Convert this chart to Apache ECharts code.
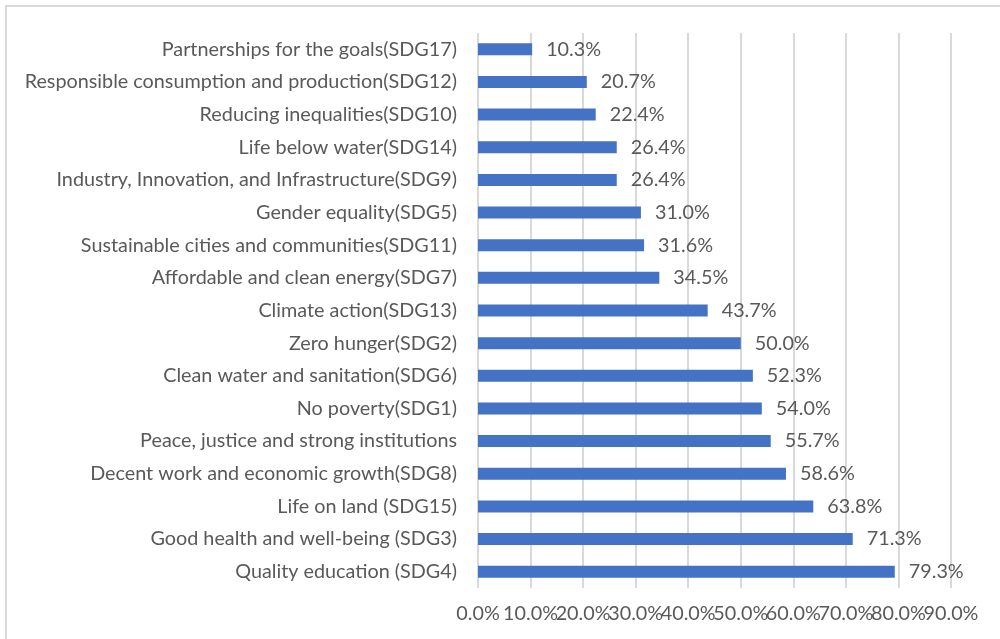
<!DOCTYPE html>
<html>
<head>
<meta charset="utf-8">
<script src="https://cdn.jsdelivr.net/npm/echarts@6/dist/echarts.min.js"></script>
<style>
  html, body { margin: 0; padding: 0; background: #fff; }
  #chart { width: 1000px; height: 639px; }
</style>
</head>
<body>
<div id="chart"></div>
<script>
// Goals listed bottom to top (first entry sits at the bottom of the axis)
const goals = [
  'Quality education (SDG4)',
  'Good health and well-being (SDG3)',
  'Life on land (SDG15)',
  'Decent work and economic growth(SDG8)',
  'Peace, justice and strong institutions',
  'No poverty(SDG1)',
  'Clean water and sanitation(SDG6)',
  'Zero hunger(SDG2)',
  'Climate action(SDG13)',
  'Affordable and clean energy(SDG7)',
  'Sustainable cities and communities(SDG11)',
  'Gender equality(SDG5)',
  'Industry, Innovation, and Infrastructure(SDG9)',
  'Life below water(SDG14)',
  'Reducing inequalities(SDG10)',
  'Responsible consumption and production(SDG12)',
  'Partnerships for the goals(SDG17)'
];
// Share of respondents, percent
const shares = [79.3, 71.3, 63.8, 58.6, 55.7, 54.0, 52.3, 50.0, 43.7, 34.5, 31.6, 31.0, 26.4, 26.4, 22.4, 20.7, 10.3];
// Percent axis ticks
const axisMax = 90;
const axisStep = 10;

const FONT = 'Lato, "Open Sans", sans-serif';
const TEXT = '#595959';
const SIZE = 19.8;
const pct = v => v.toFixed(1) + '%';

// The tick labels sit edge to edge; the last one is drawn by a twin axis
// so the crowded row keeps every label.
const baseLabel = {
  color: TEXT,
  fontFamily: FONT,
  fontSize: SIZE,
  margin: 16,
  hideOverlap: false
};

const chart = echarts.init(document.getElementById('chart'), null, { renderer: 'canvas' });
chart.setOption({
  animation: false,
  backgroundColor: '#ffffff',
  graphic: [{
    type: 'rect',
    shape: { x: 6, y: 6, width: 1010, height: 650 },
    style: { fill: 'none', stroke: '#d9d9d9', lineWidth: 2 },
    silent: true
  }],
  grid: { left: 478, right: 49, top: 33, bottom: 51, containLabel: false },
  xAxis: [{
    type: 'value',
    min: 0,
    max: axisMax,
    interval: axisStep,
    axisLine: { show: false },
    axisTick: { show: false },
    splitLine: { lineStyle: { color: '#d9d9d9', width: 2 } },
    axisLabel: Object.assign({}, baseLabel, {
      showMinLabel: true,
      showMaxLabel: false,
      formatter: pct
    })
  }, {
    type: 'value',
    position: 'bottom',
    min: 0,
    max: axisMax,
    interval: axisStep,
    axisLine: { show: false },
    axisTick: { show: false },
    splitLine: { show: false },
    axisLabel: Object.assign({}, baseLabel, {
      showMaxLabel: true,
      formatter: v => (v === axisMax ? pct(v) : '')
    })
  }],
  yAxis: {
    type: 'category',
    data: goals,
    axisLine: { show: false },
    axisTick: { show: false },
    axisLabel: {
      color: TEXT,
      fontFamily: FONT,
      fontSize: SIZE,
      margin: 21,
      interval: 0
    }
  },
  series: [{
    type: 'bar',
    data: shares,
    barWidth: 12,
    itemStyle: { color: '#4472c4' },
    label: {
      show: true,
      position: 'right',
      distance: 14,
      color: TEXT,
      fontFamily: FONT,
      fontSize: SIZE,
      formatter: p => pct(p.value)
    }
  }]
});
</script>
</body>
</html>
